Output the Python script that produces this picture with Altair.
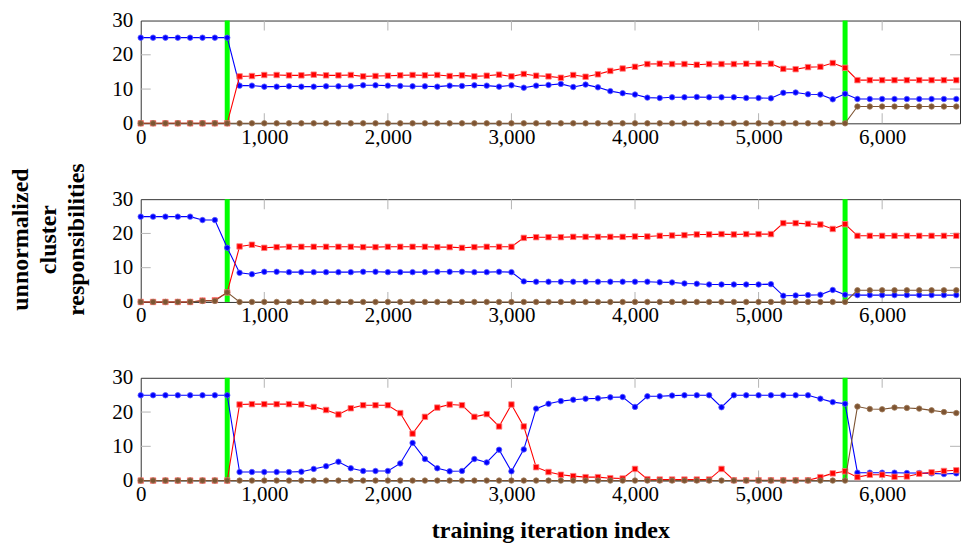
import altair as alt
import pandas as pd

FONT = "Liberation Serif"

ITER = [0, 100, 200, 300, 400, 500, 600, 700, 800, 900,
        1000, 1100, 1200, 1300, 1400, 1500, 1600, 1700, 1800, 1900,
        2000, 2100, 2200, 2300, 2400, 2500, 2600, 2700, 2800, 2900,
        3000, 3100, 3200, 3300, 3400, 3500, 3600, 3700, 3800, 3900,
        4000, 4100, 4200, 4300, 4400, 4500, 4600, 4700, 4800, 4900,
        5000, 5100, 5200, 5300, 5400, 5500, 5600, 5700, 5800, 5900,
        6000, 6100, 6200, 6300, 6400, 6500, 6600]

X_MAX = 6630
X_TICKS = [0, 1000, 2000, 3000, 4000, 5000, 6000]
X_INNER_TICKS = [1000, 2000, 3000, 4000, 5000, 6000]
Y_TICKS = [0, 10, 20, 30]
Y_INNER_TICKS = [10, 20]
SWITCHES = [700, 5700]

P1_BLUE = [25, 25, 25, 25, 25, 25, 25, 25,
           11.0, 11.0, 10.7, 10.7, 10.8, 10.7, 10.7, 10.8, 10.8, 10.8,
           11.1, 11.1, 11.0, 10.9, 10.8, 10.8, 10.7, 11.0, 10.9, 11.1,
           11.0, 10.7, 11.1, 10.4, 11.0, 11.2, 11.5, 10.6, 11.3, 10.5,
           9.4, 8.8, 8.4, 7.5, 7.4, 7.6, 7.6, 7.7, 7.6, 7.6,
           7.6, 7.4, 7.4, 7.3, 8.9, 9.0, 8.5, 8.4, 7.0, 8.6,
           7.1, 7.1, 7.1, 7.1, 7.1, 7.1, 7.1, 7.1, 7.1]
P1_RED = [0, 0, 0, 0, 0, 0, 0, 0,
          13.7, 13.8, 14.1, 14.1, 14.0, 14.0, 14.2, 14.0, 14.0, 14.1,
          13.7, 13.8, 13.9, 14.0, 14.1, 14.0, 14.1, 13.8, 14.0, 13.7,
          13.9, 14.2, 13.7, 14.4, 13.9, 13.7, 13.3, 14.1, 13.6, 14.3,
          15.3, 16.0, 16.5, 17.3, 17.4, 17.3, 17.3, 17.1, 17.3, 17.3,
          17.3, 17.4, 17.4, 17.4, 15.9, 15.8, 16.4, 16.5, 17.6, 16.2,
          12.6, 12.6, 12.6, 12.6, 12.6, 12.6, 12.6, 12.6, 12.6]
P1_BROWN = [0, 0, 0, 0, 0, 0, 0, 0,
            0, 0, 0, 0, 0, 0, 0, 0, 0, 0,
            0, 0, 0, 0, 0, 0, 0, 0, 0, 0,
            0, 0, 0, 0, 0, 0, 0, 0, 0, 0,
            0, 0, 0, 0, 0, 0, 0, 0, 0, 0,
            0, 0, 0, 0, 0, 0, 0, 0, 0, 0,
            4.9, 4.9, 4.9, 4.9, 4.9, 4.9, 4.9, 4.9, 4.9]

P2_BLUE = [24.9, 24.9, 24.9, 24.9, 24.9, 23.9, 23.9, 15.8,
           8.5, 8.1, 8.8, 8.8, 8.7, 8.7, 8.7, 8.7, 8.7, 8.7,
           8.8, 8.8, 8.7, 8.7, 8.7, 8.7, 8.8, 8.8, 8.8, 8.7,
           8.7, 8.8, 8.7, 6.0, 5.9, 5.9, 5.9, 5.9, 5.9, 5.9,
           5.9, 5.9, 5.9, 5.9, 5.75, 5.7, 5.4, 5.3, 5.1, 5.1,
           5.1, 5.1, 5.1, 5.2, 1.8, 1.9, 2.0, 2.1, 3.5, 2.1,
           2.0, 2.0, 2.0, 2.0, 2.0, 2.0, 2.0, 2.0, 2.0]
P2_RED = [0, 0, 0, 0, 0, 0.4, 0.5, 2.8,
          16.2, 16.7, 15.8, 16.0, 16.1, 16.1, 16.1, 16.1, 16.1, 16.1,
          16.0, 16.0, 16.1, 16.1, 16.1, 16.1, 16.0, 16.0, 15.8, 16.0,
          16.1, 16.1, 16.1, 18.7, 18.9, 18.9, 18.9, 19.0, 19.0, 19.0,
          19.0, 19.0, 19.1, 19.1, 19.3, 19.4, 19.5, 19.7, 19.7, 19.8,
          19.7, 19.8, 19.8, 19.8, 23.0, 23.0, 22.8, 22.6, 21.3, 22.7,
          19.3, 19.3, 19.3, 19.3, 19.3, 19.3, 19.3, 19.3, 19.3]
P2_BROWN = [0, 0, 0, 0, 0, 0.3, 0.3, 2.8,
            0, 0, 0, 0, 0, 0, 0, 0, 0, 0,
            0, 0, 0, 0, 0, 0, 0, 0, 0, 0,
            0, 0, 0, 0, 0, 0, 0, 0, 0, 0,
            0, 0, 0, 0, 0, 0, 0, 0, 0, 0,
            0, 0, 0, 0, 0, 0, 0, 0, 0, 0,
            3.4, 3.4, 3.4, 3.4, 3.4, 3.4, 3.4, 3.4, 3.4]

P3_BLUE = [24.9, 24.9, 24.9, 24.9, 24.9, 24.9, 24.9, 24.9,
           2.5, 2.5, 2.5, 2.5, 2.5, 2.6, 3.4, 4.2, 5.5, 3.6,
           2.8, 2.8, 2.8, 5.0, 11.0, 6.3, 3.6, 2.7, 2.8, 6.3,
           5.3, 9.0, 2.7, 9.1, 21.0, 22.4, 23.2, 23.6, 23.9, 24.0,
           24.3, 24.4, 21.5, 24.6, 24.6, 24.8, 24.9, 24.9, 24.9, 21.4,
           24.9, 24.9, 24.9, 24.9, 24.9, 24.9, 24.9, 23.9, 22.9, 22.4,
           2.3, 2.3, 2.3, 2.3, 2.2, 2.2, 2.1, 1.9, 2.1]
P3_RED = [0, 0, 0, 0, 0, 0, 0, 0,
          22.2, 22.3, 22.3, 22.3, 22.3, 22.2, 21.5, 20.6, 19.3, 21.1,
          22.0, 22.0, 22.0, 19.7, 13.7, 18.6, 21.3, 22.2, 22.0, 18.6,
          19.4, 15.8, 22.2, 15.8, 3.9, 2.5, 1.7, 1.3, 1.0, 1.0,
          0.7, 0.6, 3.4, 0.4, 0.3, 0.3, 0.3, 0.3, 0.3, 3.4,
          0.1, 0.1, 0.1, 0.1, 0.1, 0.1, 0.1, 1.0, 2.1, 2.7,
          1.0, 1.7, 1.7, 1.1, 1.2, 2.0, 2.4, 2.8, 3.0]
P3_BROWN = [0, 0, 0, 0, 0, 0, 0, 0,
            0, 0, 0, 0, 0, 0, 0, 0, 0, 0,
            0, 0, 0, 0, 0, 0, 0, 0, 0, 0,
            0, 0, 0, 0, 0, 0, 0, 0, 0, 0,
            0, 0, 0, 0, 0, 0, 0, 0, 0, 0,
            0, 0, 0, 0, 0, 0, 0, 0, 0, 0,
            21.6, 20.9, 20.8, 21.3, 21.2, 21.0, 20.5, 20.0, 19.7]

BLUE = "#0000ff"
RED = "#ff0000"
BROWN = "#7d5432"
GREEN = "#00ff00"
TICK_GRAY = "#b4b4b4"

PANEL_W = 821
PANEL_H = 103

xscale = alt.Scale(domain=[0, X_MAX], nice=False, zero=False)
yscale = alt.Scale(domain=[0, 30], nice=False, zero=False)


def x_axis(show_title):
    if show_title:
        return alt.Axis(values=X_TICKS, format=",d", labelFlush=False,
                        labelPadding=3, title="training iteration index",
                        titlePadding=14)
    return alt.Axis(values=X_TICKS, format=",d", labelFlush=False,
                    labelPadding=3, title=None)


def y_axis(show_title):
    if show_title:
        return alt.Axis(values=Y_TICKS, labelPadding=8,
                        title=["unnormalized", "cluster", "responsibilities"],
                        titleLineHeight=28, titlePadding=23, titleY=40)
    return alt.Axis(values=Y_TICKS, labelPadding=8, title=None)


def xf(field, show_title):
    return alt.X(field, type="quantitative", scale=xscale, axis=x_axis(show_title))


def yf(field, show_title):
    return alt.Y(field, type="quantitative", scale=yscale, axis=y_axis(show_title))


def xd(value, show_title):
    return alt.XDatum(value, type="quantitative", scale=xscale, axis=x_axis(show_title))


def yd(value, show_title):
    return alt.YDatum(value, type="quantitative", scale=yscale, axis=y_axis(show_title))


def panel(blue, red, brown, xt, yt):
    switch_df = pd.DataFrame({"x": SWITCHES})
    xt_df = pd.DataFrame({"x": X_INNER_TICKS})
    yt_df = pd.DataFrame({"y": Y_INNER_TICKS})

    layers = []
    layers.append(alt.Chart(switch_df).mark_rule(color=GREEN, strokeWidth=5).encode(
        x=xf("x", xt)))
    layers.append(alt.Chart(xt_df).mark_tick(orient="vertical", size=10, thickness=1,
                                             color=TICK_GRAY, opacity=1, yOffset=5).encode(
        x=xf("x", xt), y=yd(30, yt)))
    layers.append(alt.Chart(xt_df).mark_tick(orient="vertical", size=10, thickness=1,
                                             color=TICK_GRAY, opacity=1, yOffset=-5).encode(
        x=xf("x", xt), y=yd(0, yt)))
    layers.append(alt.Chart(yt_df).mark_tick(orient="horizontal", size=10, thickness=1,
                                             color=TICK_GRAY, opacity=1, xOffset=5).encode(
        x=xd(0, xt), y=yf("y", yt)))
    layers.append(alt.Chart(yt_df).mark_tick(orient="horizontal", size=10, thickness=1,
                                             color=TICK_GRAY, opacity=1, xOffset=-5).encode(
        x=xd(X_MAX, xt), y=yf("y", yt)))

    for vals, color, shape, size, stroke in [
        (blue, BLUE, "circle", 30, "#5a5aff"),
        (red, RED, "square", 30, "#ff8080"),
        (brown, BROWN, "circle", 30, "#a07a58"),
    ]:
        df = pd.DataFrame({"x": ITER, "v": vals})
        layers.append(alt.Chart(df).mark_line(color=color, strokeWidth=1.1).encode(
            x=xf("x", xt), y=yf("v", yt)))
        layers.append(alt.Chart(df).mark_point(shape=shape, size=size, filled=True,
                                               fill=color, stroke=stroke, strokeWidth=0.8,
                                               opacity=1).encode(
            x=xf("x", xt), y=yf("v", yt)))
    return alt.layer(*layers).properties(width=PANEL_W, height=PANEL_H)


p1 = panel(P1_BLUE, P1_RED, P1_BROWN, False, False)
p2 = panel(P2_BLUE, P2_RED, P2_BROWN, False, True)
p3 = panel(P3_BLUE, P3_RED, P3_BROWN, True, False)

chart = alt.vconcat(p1, p2, p3, spacing=76, bounds="flush").properties(
    padding=0
).configure(
    padding=0
).configure_view(
    stroke="#333333", strokeWidth=1
).configure_axis(
    labelFont=FONT, labelFontSize=21, labelColor="black",
    titleFont=FONT, titleFontSize=24, titleFontWeight="bold", titleColor="black",
    ticks=False, domain=False, grid=False
)

chart.save("out.html", embed_options={"renderer": "svg", "actions": False})
